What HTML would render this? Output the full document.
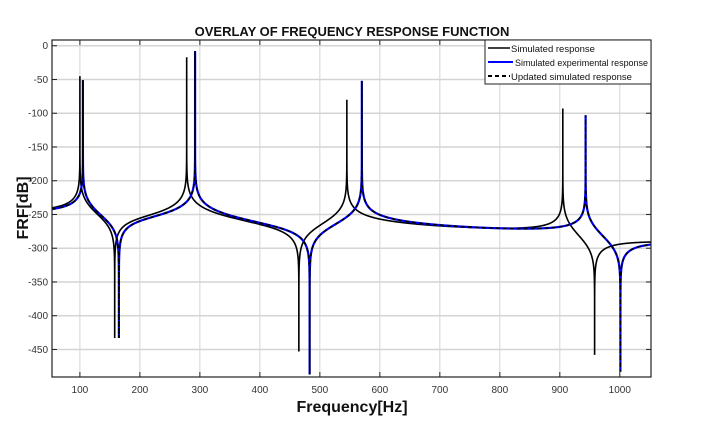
<!DOCTYPE html>
<html><head><meta charset="utf-8"><style>
body{margin:0;background:#fff;}
svg text{font-family:"Liberation Sans",Arial,sans-serif;}
</style></head><body>
<svg id="chart" width="713" height="428" viewBox="0 0 713 428">
<defs><clipPath id="clip"><rect x="52" y="40" width="599" height="337"/></clipPath></defs>
<rect x="0" y="0" width="713" height="428" fill="#fff"/>
<g id="grid"></g>
<g id="series" clip-path="url(#clip)"></g>
<rect x="52" y="40" width="599" height="337" fill="none" stroke="#222" stroke-width="1.2"/>
<g id="ticks"></g>
<text x="352" y="36" text-anchor="middle" font-size="13" font-weight="bold" fill="#111">OVERLAY OF FREQUENCY RESPONSE FUNCTION</text>
<text x="352" y="412" text-anchor="middle" font-size="16" font-weight="bold" fill="#111">Frequency[Hz]</text>
<text x="0" y="0" transform="translate(28,208) rotate(-90)" text-anchor="middle" font-size="16" font-weight="bold" fill="#111">FRF[dB]</text>
<g>
<rect x="485" y="40" width="166" height="44" fill="#fff" stroke="#222" stroke-width="1"/>
<g>
<line x1="488" y1="48" x2="510" y2="48" stroke="#000" stroke-width="1.5"/>
<text x="511" y="52" font-size="9.5" fill="#111">Simulated response</text></g>
<g>
<line x1="488" y1="62" x2="513" y2="62" stroke="#0000ff" stroke-width="2"/>
<text x="515" y="66" font-size="9.5" fill="#111" textLength="133" lengthAdjust="spacingAndGlyphs">Simulated experimental response</text></g>
<g>
<line x1="488" y1="76" x2="510" y2="76" stroke="#000" stroke-width="2" stroke-dasharray="4,3"/>
<text x="511" y="80" font-size="9.5" fill="#111">Updated simulated response</text></g>
</g>
</svg>
<script>
// data
const xTicks = [100,200,300,400,500,600,700,800,900,1000];
const yTicks = [0,-50,-100,-150,-200,-250,-300,-350,-400,-450];
const simResonances = [100,278,545,905];
const simPeaks = [-45,-17,-80,-93];
const simAntiresonances = [158,465,958];
const simDips = [-433,-453,-458];
const expResonances = [105,292,570,943];
const expPeaks = [-51,-8,-52,-103];
const expAntiresonances = [165,483,1001];
const expDips = [-433,-487,-483];
const baseLevel = -106;
const dbFactor = 30;

const X0=52,X1=651,Y0=40,Y1=377;
const fMin=53.5,fMax=1052,dbMax=8.5,dbMin=-490.8;
const xs=f=>X0+(f-fMin)/(fMax-fMin)*(X1-X0);
const ys=d=>Y0+(dbMax-d)/(dbMax-dbMin)*(Y1-Y0);
const NS='http://www.w3.org/2000/svg';
function mk(tag,attrs,parent){const e=document.createElementNS(NS,tag);for(const k in attrs)e.setAttribute(k,attrs[k]);parent.appendChild(e);return e;}
const grid=document.getElementById('grid'),ticks=document.getElementById('ticks');
xTicks.forEach(t=>{
  const g=mk('line',{x1:xs(t),x2:xs(t),y1:Y0,y2:Y1,stroke:'#d4d4d4','stroke-width':1},grid);
  
  
  mk('line',{x1:xs(t),x2:xs(t),y1:Y1,y2:Y1-5,stroke:'#222'},ticks);
  mk('line',{x1:xs(t),x2:xs(t),y1:Y0,y2:Y0+5,stroke:'#222'},ticks);
  const l=mk('text',{x:xs(t),y:Y1+16,'text-anchor':'middle','font-size':10,fill:'#333'},ticks);
  l.textContent=t;
  
  
});
yTicks.forEach(t=>{
  const g=mk('line',{x1:X0,x2:X1,y1:ys(t),y2:ys(t),stroke:'#d4d4d4','stroke-width':1.5},grid);
  
  
  mk('line',{x1:X0,x2:X0+5,y1:ys(t),y2:ys(t),stroke:'#222'},ticks);
  mk('line',{x1:X1,x2:X1-5,y1:ys(t),y2:ys(t),stroke:'#222'},ticks);
  const l=mk('text',{x:X0-4,y:ys(t)+3.5,'text-anchor':'end','font-size':10,fill:'#333'},ticks);
  l.textContent=t;
  
  
});

function term(f,w,eta){const re=w*w-f*f,im=eta*w*w;return dbFactor/2*Math.log10(re*re+im*im);}
function buildModel(P,Pk,Z,Zd){
  let ep=P.map(()=>1e-4),ez=Z.map(()=>1e-4);
  const H=(f)=>{let s=baseLevel;Z.forEach((z,i)=>s+=term(f,z,ez[i]));P.forEach((p,i)=>s-=term(f,p,ep[i]));return s;};
  for(let it=0;it<5;it++){
    P.forEach((p,i)=>{let rest=baseLevel;Z.forEach((z,k)=>rest+=term(p,z,ez[k]));P.forEach((q,j)=>{if(j!==i)rest-=term(p,q,ep[j]);});
      ep[i]=Math.pow(10,(rest-Pk[i])/dbFactor)/(p*p);});
    Z.forEach((z,i)=>{let rest=baseLevel;Z.forEach((w,k)=>{if(k!==i)rest+=term(z,w,ez[k]);});P.forEach((q,j)=>rest-=term(z,q,ep[j]));
      ez[i]=Math.pow(10,(Zd[i]-rest)/dbFactor)/(z*z);});
  }
  return H;
}
function pathFor(P,Pk,Z,Zd){
  const H=buildModel(P,Pk,Z,Zd);
  let fs=[];for(let f=fMin;f<=fMax;f+=0.05)fs.push(f);
  fs=fs.concat(P,Z).sort((a,b)=>a-b);
  let d='',lx=null,ly=null;
  fs.forEach((f,i)=>{const x=xs(f),y=ys(H(f));
    if(i===0||i===fs.length-1||Math.abs(y-ly)>0.3||Math.abs(x-lx)>0.5){d+=(d?'L':'M')+x.toFixed(2)+','+y.toFixed(2);lx=x;ly=y;}});
  return d;
}
const S=document.getElementById('series');
const dSim=pathFor(simResonances,simPeaks,simAntiresonances,simDips);
const dExp=pathFor(expResonances,expPeaks,expAntiresonances,expDips);
const s1=mk('path',{d:dSim,fill:'none',stroke:'#000','stroke-width':1.6},S);


const s2=mk('path',{d:dExp,fill:'none',stroke:'#0000ff','stroke-width':2.2},S);


const s3=mk('path',{d:dExp,fill:'none',stroke:'#000','stroke-width':1.6,'stroke-dasharray':'4,3'},S);


</script>
</body></html>
